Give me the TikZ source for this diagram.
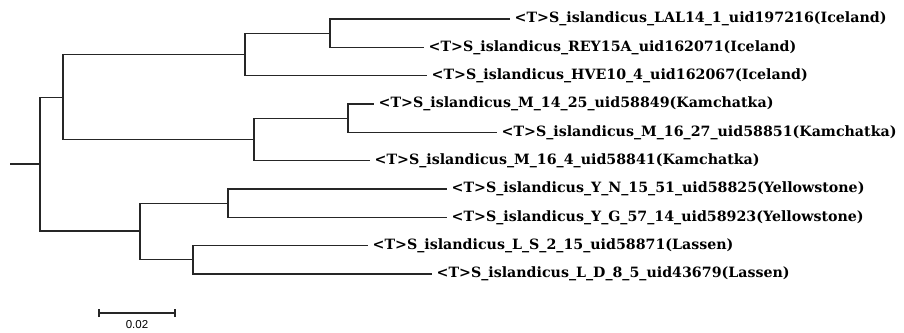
\documentclass[tikz,border=0pt]{standalone}
\usepackage{fontspec}
\setmainfont{DejaVu Serif}
\newfontfamily\scalefont{Liberation Sans}
\begin{document}
\begin{tikzpicture}[x=1pt,y=-1pt,
  branch/.style={draw=black!85,line width=1.2pt},
  leaf/.style={anchor=west,inner xsep=4.5pt,inner ysep=0pt,font=\fontsize{14.2}{16}\selectfont\bfseries},
  scalelabel/.style={font=\scalefont\fontsize{11.5}{13}\selectfont,inner sep=0pt}]
\useasboundingbox (0,0) rectangle (904,332);

% leaves
\node[leaf] (lal) at (510,19)    {<T>S\_islandicus\_LAL14\_1\_uid197216(Iceland)};
\node[leaf] (rey) at (424,47.3)  {<T>S\_islandicus\_REY15A\_uid162071(Iceland)};
\node[leaf] (hve) at (427,75.7)  {<T>S\_islandicus\_HVE10\_4\_uid162067(Iceland)};
\node[leaf] (mfa) at (374,104)   {<T>S\_islandicus\_M\_14\_25\_uid58849(Kamchatka)};
\node[leaf] (mfb) at (497,132.3) {<T>S\_islandicus\_M\_16\_27\_uid58851(Kamchatka)};
\node[leaf] (mfc) at (370,160.7) {<T>S\_islandicus\_M\_16\_4\_uid58841(Kamchatka)};
\node[leaf] (yn)  at (447,189)   {<T>S\_islandicus\_Y\_N\_15\_51\_uid58825(Yellowstone)};
\node[leaf] (yg)  at (447,217.3) {<T>S\_islandicus\_Y\_G\_57\_14\_uid58923(Yellowstone)};
\node[leaf] (ls)  at (368,245.7) {<T>S\_islandicus\_L\_S\_2\_15\_uid58871(Lassen)};
\node[leaf] (ld)  at (432,274)   {<T>S\_islandicus\_L\_D\_8\_5\_uid43679(Lassen)};

% internal nodes
\coordinate (stub) at (10,164);
\coordinate (root) at (40,164);
\coordinate (up)   at (63,97.5);
\coordinate (ice)  at (245,54.5);
\coordinate (lr)   at (330,33.2);
\coordinate (kam)  at (254,139.5);
\coordinate (mm)   at (348,118.2);
\coordinate (low)  at (140,231);
\coordinate (yel)  at (228,203.2);
\coordinate (las)  at (193,259.8);

% branches
\draw[branch] (stub) -- (root);
\draw[branch] (root) |- (up);
\draw[branch] (root) |- (low);
\draw[branch] (up) |- (ice);
\draw[branch] (up) |- (kam);
\draw[branch] (ice) |- (lr);
\draw[branch] (ice) |- (hve.west);
\draw[branch] (lr) |- (lal.west);
\draw[branch] (lr) |- (rey.west);
\draw[branch] (kam) |- (mm);
\draw[branch] (kam) |- (mfc.west);
\draw[branch] (mm) |- (mfa.west);
\draw[branch] (mm) |- (mfb.west);
\draw[branch] (low) |- (yel);
\draw[branch] (low) |- (las);
\draw[branch] (yel) |- (yn.west);
\draw[branch] (yel) |- (yg.west);
\draw[branch] (las) |- (ls.west);
\draw[branch] (las) |- (ld.west);

% scale bar
\coordinate (sba) at (99,313);
\coordinate (sbb) at (175,313);
\draw[branch] (sba) -- (sbb);
\draw[branch] ([yshift=-4]sba) -- ([yshift=4]sba);
\draw[branch] ([yshift=-4]sbb) -- ([yshift=4]sbb);
\node[scalelabel] (sbl) at (137,325) {0.02};
\end{tikzpicture}
\end{document}
